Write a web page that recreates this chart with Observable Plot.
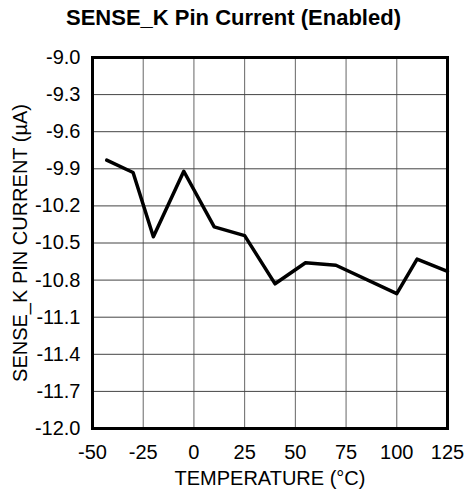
<!DOCTYPE html>
<html>
<head>
<meta charset="utf-8">
<script src="https://cdn.jsdelivr.net/npm/d3@7"></script>
<script src="https://cdn.jsdelivr.net/npm/@observablehq/plot@0.6"></script>
<style>
  html, body { margin: 0; padding: 0; background: #fff; }
  body { width: 464px; height: 491px; overflow: hidden; font-family: "Liberation Sans", Arial, sans-serif; }
  #title { height: 36px; line-height: 36px; font-size: 22px; font-weight: bold; text-align: center; padding-left: 3px; color: #000; }
</style>
</head>
<body>
<div id="title">SENSE_K Pin Current (Enabled)</div>
<div id="chart"></div>
<script>
const temperature = [-43, -30, -20, -5, 10, 25, 40, 55, 70, 100, 110, 125];
const current = [-9.83, -9.93, -10.45, -9.92, -10.37, -10.44, -10.83, -10.66, -10.68, -10.91, -10.63, -10.73];
const xTicks = [-50, -25, 0, 25, 50, 75, 100, 125];
const yTicks = [-9.0, -9.3, -9.6, -9.9, -10.2, -10.5, -10.8, -11.1, -11.4, -11.7, -12.0];
const xLabel = "TEMPERATURE (°C)";
const yLabel = "SENSE_K PIN CURRENT (µA)";

const data = temperature.map((t, i) => ({t, c: current[i]}));

const chart = Plot.plot({
  width: 464,
  height: 455,
  marginTop: 21,
  marginBottom: 63,
  marginLeft: 92,
  marginRight: 17,
  style: {fontFamily: "'Liberation Sans', Arial, sans-serif", fontSize: "20px", color: "#000", background: "#fff"},
  x: {domain: [-50, 125], ticks: xTicks, label: null},
  y: {domain: [-12.0, -9.0], ticks: yTicks, label: null},
  marks: [
    Plot.gridX(xTicks, {stroke: "#666", strokeOpacity: 1, strokeWidth: 1}),
    Plot.gridY(yTicks, {stroke: "#444", strokeOpacity: 1, strokeWidth: 1}),
    Plot.axisX(xTicks, {tickSize: 0, tickPadding: 16, fontSize: 20, label: null, tickFormat: d => String(d)}),
    Plot.axisY(yTicks, {tickSize: 0, tickPadding: 12, fontSize: 20, label: null, tickFormat: d => d.toFixed(1)}),
    Plot.line(data, {x: "t", y: "c", stroke: "#000", strokeWidth: 3.5}),
    Plot.frame({stroke: "#000", strokeWidth: 3}),
    Plot.text([xLabel], {frameAnchor: "bottom", lineAnchor: "bottom", dy: 56, fontSize: 20, fill: "#000"}),
    Plot.text([yLabel], {frameAnchor: "left", textAnchor: "middle", lineAnchor: "bottom", rotate: -90, dx: -66, fontSize: 20, fill: "#000"})
  ]
});
document.getElementById("chart").appendChild(chart);
</script>
</body>
</html>
